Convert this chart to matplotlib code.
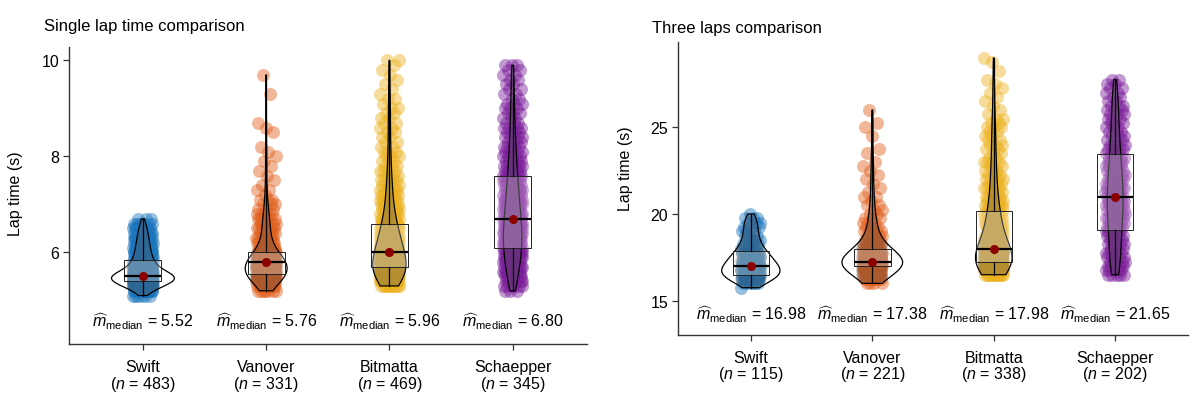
import numpy as np
import matplotlib
matplotlib.use('Agg')
import matplotlib.pyplot as plt
from matplotlib.path import Path
from matplotlib.patches import PathPatch

plt.rcParams['font.family'] = ['Liberation Sans', 'DejaVu Sans']
plt.rcParams['mathtext.fontset'] = 'custom'
plt.rcParams['mathtext.rm'] = 'Liberation Sans'
plt.rcParams['mathtext.it'] = 'Liberation Sans:italic'

# ─────────────────────────────────────────
# Data (lap times binned, counts read from the dot clouds)
# ─────────────────────────────────────────
RIDERS = ['Swift', 'Vanover', 'Bitmatta', 'Schaepper']
COLORS = ['#1B75BC', '#E0601C', '#ECB11F', '#7B1E9A']

# single lap, 0.1 s bins
SINGLE_STEP = 0.1
SINGLE_START = [5.1, 5.2, 5.3, 5.2]
SINGLE_SWIFT = [6, 22, 50, 80, 92, 50, 35, 27, 22, 20, 17, 16, 14, 12, 10, 7, 3]
SINGLE_VANOVER = [7, 14, 24, 38, 40, 42, 36, 28, 20,
                  9, 8, 8, 7, 7, 6, 6, 5, 3, 3, 3, 1, 2, 1, 1, 1, 1, 1, 1,
                  1, 1, 1, 0, 0, 1, 1, 1, 0, 0, 0, 0, 0, 1, 0, 0, 0, 1]
SINGLE_BITMATTA = [12, 30, 38, 36, 34, 32, 30, 28, 24, 22, 20, 18, 16, 14,
                   11, 9, 9, 7, 7, 6, 6, 5, 5, 4, 4, 3, 3, 3, 3, 2, 2, 2, 2,
                   2, 2, 2, 2, 2, 1, 2, 1, 1, 1, 1, 1, 1, 1, 2]
SINGLE_SCHAEPPER = [3, 6, 8, 9, 10, 10, 11, 12, 13, 14, 15, 15, 15, 14, 13,
                    12, 11, 11, 10, 10, 9, 9, 8, 8, 7,
                    7, 6, 6, 5, 5, 5, 4, 4, 4, 4, 3, 3, 3, 3, 3, 2, 2, 2, 2,
                    2, 2, 2, 3]
SINGLE_N = [483, 331, 469, 345]
SINGLE_MEDIAN_TXT = ['5.52', '5.76', '5.96', '6.80']

# three laps, 0.25 s bins
THREE_STEP = 0.25
THREE_START = [15.75, 16.0, 16.5, 16.5]
THREE_SWIFT = [1, 6, 12, 14, 14, 12, 10, 9, 8, 5, 4, 4, 3, 3, 3, 3, 3, 1]
THREE_VANOVER = [4, 8, 14, 22, 28, 35, 25, 18, 12,
                 7, 6, 5, 4, 4, 3, 3, 2, 2, 2, 1, 2, 1, 1, 1, 1, 1, 1, 1, 1,
                 0, 1, 1, 0, 0, 1, 0, 1, 1, 0, 0, 1]
THREE_BITMATTA = [14, 26, 30, 28, 26, 24, 22, 14, 12, 11, 10, 10, 9, 9, 8,
                  6, 6, 5, 5, 4, 4, 4, 4, 3, 3, 3, 4, 2, 2, 2, 3, 2, 2, 2, 3,
                  2, 2, 1, 1, 1, 1, 1, 1, 1, 1, 1, 0, 1, 0, 1, 1]
THREE_SCHAEPPER = [5, 5, 5, 5, 5, 5, 4, 4, 4, 4, 5, 6, 6, 6, 6, 6, 7, 7, 7,
                   6, 6, 6, 6, 5, 5, 5, 5, 5,
                   4, 4, 4, 3, 3, 3, 3, 3, 3, 3, 3, 3, 2, 2, 2, 2, 2, 2]
THREE_N = [115, 221, 338, 202]
THREE_MEDIAN_TXT = ['16.98', '17.38', '17.98', '21.65']

# ─────────────────────────────────────────
# Style
# ─────────────────────────────────────────
FS = 11.5
JITTER = 0.08
DOT_PX = 13          # dot diameter in pixels
GOLDEN = 0.6180339887


def expand(start, step, counts):
    centers = np.round(start + step * np.arange(len(counts)), 3)
    return np.repeat(centers, counts)


def dots_path(xs, ys, rx, ry):
    # union of the dot discs, in data coords (used to tint dots under the violin)
    circ = Path.unit_circle()
    paths = [Path(circ.vertices * [rx, ry] + [x, y], circ.codes)
             for x, y in zip(xs, ys)]
    return Path.make_compound_path(*paths)


def draw_panel(ax, groups, ns, med_txt, widths, ylim, yticks, txt_y,
               title, title_xy, ylabel_xy):
    pos = np.arange(1, len(groups) + 1)
    ax.set_xlim(0.4, 4.6)
    ax.set_ylim(*ylim)
    rx = DOT_PX / 2 / ax.bbox.width * 4.2
    ry = DOT_PX / 2 / ax.bbox.height * (ylim[1] - ylim[0])

    vp = ax.violinplot(groups, positions=pos, widths=widths,
                       showextrema=False)
    for i, (vals, body) in enumerate(zip(groups, vp['bodies'])):
        k = np.arange(len(vals))
        off = (2 * ((k * GOLDEN + 0.37 * i) % 1.0) - 1) * JITTER
        ax.scatter(pos[i] + off, vals, s=(DOT_PX * 0.72) ** 2, color=COLORS[i],
                   alpha=0.45, linewidths=0, zorder=1)

        vpath = body.get_paths()[0]
        body.set_alpha(None)
        body.set_facecolor((0.3, 0.3, 0.3, 0.35))
        body.set_edgecolor('none')
        body.set_zorder(2)
        body.set_clip_path(dots_path(pos[i] + off, vals, rx, ry), ax.transData)
        ax.add_patch(PathPatch(vpath, facecolor='none', edgecolor='black',
                               linewidth=0.9, zorder=2.5))

    ax.boxplot(groups, positions=pos, widths=0.3, whis=(0, 100),
               showfliers=False, showcaps=False, patch_artist=True,
               manage_ticks=False,
               boxprops=dict(facecolor=(1, 1, 1, 0.25), edgecolor='#222222',
                             linewidth=0.7),
               medianprops=dict(color='black', linewidth=1.6),
               whiskerprops=dict(color='black', linewidth=0.9),
               zorder=3)

    meds = [np.median(g) for g in groups]
    ax.plot(pos, meds, 'o', color='#8B0000', ms=5.5, zorder=5)

    for i, t in enumerate(med_txt):
        ax.text(pos[i], txt_y, r'$\widehat{m}_{\mathrm{median}}$ = ' + t,
                ha='center', va='center', fontsize=FS)

    ax.set_yticks(yticks)
    ax.set_xticks(pos)
    ax.set_xticklabels([f'{r}\n($n$ = {n})' for r, n in zip(RIDERS, ns)],
                       fontsize=FS, linespacing=0.95)
    ax.tick_params(axis='both', labelsize=FS, length=4, width=0.9,
                   direction='out', pad=3, color='#333333')
    ax.tick_params(axis='x', pad=7)
    for s in ['top', 'right']:
        ax.spines[s].set_visible(False)
    for s in ['left', 'bottom']:
        ax.spines[s].set_linewidth(1.0)
        ax.spines[s].set_color('#333333')

    ax.set_ylabel('Lap time (s)', fontsize=FS)
    ax.yaxis.set_label_coords(*ylabel_xy)
    ax.text(title_xy[0], title_xy[1], title, transform=ax.transAxes,
            ha='left', va='center', fontsize=12)


single = [expand(s, SINGLE_STEP, c) for s, c in zip(
    SINGLE_START, [SINGLE_SWIFT, SINGLE_VANOVER, SINGLE_BITMATTA, SINGLE_SCHAEPPER])]
three = [expand(s, THREE_STEP, c) for s, c in zip(
    THREE_START, [THREE_SWIFT, THREE_VANOVER, THREE_BITMATTA, THREE_SCHAEPPER])]

fig = plt.figure(figsize=(12, 4.1), dpi=100)
ax1 = fig.add_axes([0.0575, 0.1585, 0.4313, 0.7245])
ax2 = fig.add_axes([0.565, 0.1812, 0.425, 0.7132])

draw_panel(ax1, single, SINGLE_N, SINGLE_MEDIAN_TXT, [0.51, 0.34, 0.27, 0.15],
           (4.09, 10.28), [6, 8, 10], 4.57, 'Single lap time comparison',
           (-0.048, 1.072), (-0.089, 0.51))
draw_panel(ax2, three, THREE_N, THREE_MEDIAN_TXT, [0.48, 0.50, 0.30, 0.13],
           (13.04, 29.9), [15, 20, 25], 14.23, 'Three laps comparison',
           (-0.051, 1.05), (-0.088, 0.57))

fig.savefig('out.png', dpi=100)
plt.close(fig)
